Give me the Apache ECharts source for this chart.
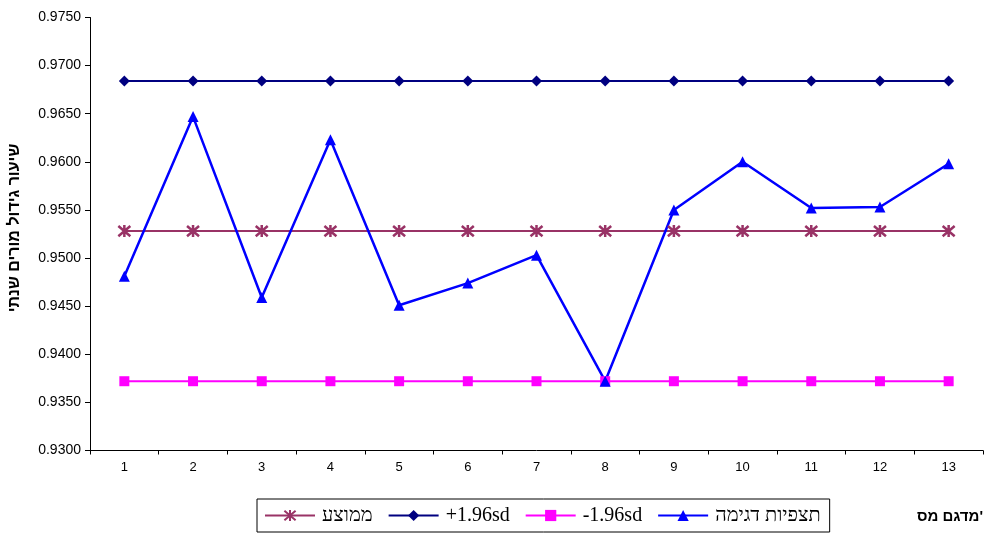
<!DOCTYPE html>
<html>
<head>
<meta charset="utf-8">
<script src="https://cdn.jsdelivr.net/npm/echarts@6/dist/echarts.min.js"></script>
<style>
  html, body { margin: 0; padding: 0; background: #fff; }
  #chart { width: 984px; height: 534px; }
</style>
</head>
<body>
<div id="chart"></div>
<script>
// Sample numbers along the x axis
const categories = ['1', '2', '3', '4', '5', '6', '7', '8', '9', '10', '11', '12', '13'];

// Control lines: mean and ±1.96 standard deviations
const meanValues  = [0.9528, 0.9528, 0.9528, 0.9528, 0.9528, 0.9528, 0.9528, 0.9528, 0.9528, 0.9528, 0.9528, 0.9528, 0.9528];
const upperValues = [0.9684, 0.9684, 0.9684, 0.9684, 0.9684, 0.9684, 0.9684, 0.9684, 0.9684, 0.9684, 0.9684, 0.9684, 0.9684];
const lowerValues = [0.9372, 0.9372, 0.9372, 0.9372, 0.9372, 0.9372, 0.9372, 0.9372, 0.9372, 0.9372, 0.9372, 0.9372, 0.9372];

// Observed sample values
const sampleValues = [0.9481, 0.9647, 0.9459, 0.9623, 0.9451, 0.9474, 0.9503, 0.9372, 0.9550, 0.9600, 0.9552, 0.9553, 0.9598];

// Series names
const seriesNames = ['ממוצע', '+1.96sd', '-1.96sd', 'תצפיות דגימה'];

// Axis titles
const yTitle = 'שיעור גידול מורים שנתי';
const xTitle = "מדגם מס'";

const SANS = '"Liberation Sans", Arial, sans-serif';
const SERIF = '"Liberation Serif", "Times New Roman", serif';

// Asterisk marker: vertical bar plus two diagonals, drawn as strokes
const asterisk = 'path://M5,0L5,10M0.7,0.7L9.3,9.3M9.3,0.7L0.7,9.3';

const chart = echarts.init(document.getElementById('chart'), null, { renderer: 'canvas' });

function lineSeries(name, data, color, symbol, size, width, extra) {
  return Object.assign({
    name: name,
    type: 'line',
    data: data,
    symbol: symbol,
    symbolSize: size,
    showAllSymbol: true,
    animation: false,
    lineStyle: { color: color, width: width },
    itemStyle: { color: color },
    emphasis: { disabled: true }
  }, extra || {});
}

chart.setOption({
  backgroundColor: '#ffffff',
  animation: false,
  grid: { left: 90, right: 1, top: 17.5, bottom: 83.5, containLabel: false, outerBoundsMode: 'none' },
  legend: {
    data: seriesNames,
    left: 257,
    top: 499,
    orient: 'horizontal',
    itemWidth: 50,
    itemHeight: 14,
    itemGap: 15,
    padding: [6, 9, 6, 7],
    borderColor: '#000',
    borderWidth: 1,
    selectedMode: false,
    textStyle: { fontFamily: SERIF, fontSize: 20, color: '#000', lineHeight: 21, padding: [0, 0, 0, 2] }
  },
  xAxis: {
    type: 'category',
    data: categories,
    boundaryGap: true,
    axisLine: { lineStyle: { color: '#000', width: 1 } },
    axisTick: { show: true, length: 4, interval: 0, lineStyle: { color: '#000' } },
    axisLabel: { fontFamily: SANS, fontSize: 13, color: '#000', margin: 10, interval: 0 },
    splitLine: { show: false }
  },
  yAxis: {
    type: 'value',
    min: 0.93,
    max: 0.975,
    interval: 0.005,
    axisLine: { show: true, lineStyle: { color: '#000', width: 1 } },
    axisTick: { show: true, length: 5, lineStyle: { color: '#000' } },
    axisLabel: {
      fontFamily: SANS, fontSize: 14, color: '#000', margin: 9,
      formatter: function (v) { return v.toFixed(4); }
    },
    splitLine: { show: false }
  },
  graphic: [
    {
      type: 'text',
      right: 1,
      top: 509,
      style: { text: xTitle, font: 'bold 15px ' + SANS, fill: '#000' }
    },
    {
      type: 'text',
      x: 15,
      y: 228,
      rotation: Math.PI / 2,
      style: {
        text: yTitle, font: 'bold 16px ' + SANS, fill: '#000',
        textAlign: 'center', textVerticalAlign: 'middle'
      }
    }
  ],
  series: [
    lineSeries(seriesNames[0], meanValues, '#993366', asterisk, 12, 2,
      { itemStyle: { color: 'transparent', borderColor: '#993366', borderWidth: 2.5 } }),
    lineSeries(seriesNames[1], upperValues, '#000080', 'diamond', 11, 2),
    lineSeries(seriesNames[2], lowerValues, '#ff00ff', 'rect', 10, 2),
    lineSeries(seriesNames[3], sampleValues, '#0000ff', 'triangle', 11, 2.5)
  ]
});
</script>
</body>
</html>
